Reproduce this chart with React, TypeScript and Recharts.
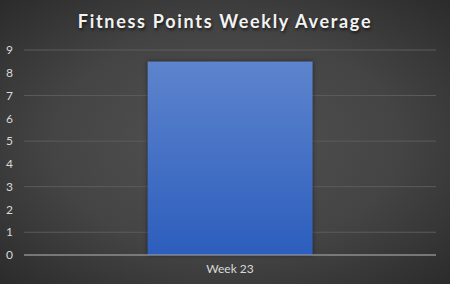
import React from "react";
import { BarChart, Bar, XAxis, YAxis, CartesianGrid } from "recharts";

const title = "Fitness Points Weekly Average";
const weeks = ["Week 23"];
const averagePoints = [8.5];
const yTicks = [0, 1, 2, 3, 4, 5, 6, 7, 8, 9];

const data = weeks.map((week, i) => ({ week, points: averagePoints[i] }));

const labelStyle = { fill: "#d9d9d9", fontSize: 12, fontFamily: "Lato, sans-serif" };

export default function App() {
  return (
    <div
      style={{
        position: "absolute",
        left: 0,
        top: 0,
        width: 450,
        height: 284,
        background: "radial-gradient(ellipse at center, #525252 0%, #444444 55%, #2b2b2b 100%)",
        overflow: "hidden",
      }}
    >
      <div
        style={{
          position: "absolute",
          top: 10,
          left: 0,
          width: 450,
          textAlign: "center",
          color: "#f2f2f2",
          fontFamily: "Lato, sans-serif",
          fontWeight: 700,
          fontSize: 18,
          letterSpacing: 1.7,
          textShadow: "1px 2px 3px rgba(0,0,0,0.6)",
        }}
      >
        {title}
      </div>
      <BarChart
        width={450}
        height={284}
        data={data}
        margin={{ top: 50, right: 14, bottom: 0, left: 0 }}
        barCategoryGap="30%"
      >
        <defs>
          <linearGradient id="barFill" x1="0" y1="0" x2="0" y2="1">
            <stop offset="0%" stopColor="#5d84cd" />
            <stop offset="100%" stopColor="#2d5ebd" />
          </linearGradient>
        </defs>
        <CartesianGrid vertical={false} stroke="#5c5c5c" />
        <XAxis
          dataKey="week"
          height={29}
          tickLine={false}
          tickSize={0}
          tickMargin={9}
          axisLine={{ stroke: "#a6a6a6" }}
          tick={labelStyle}
        />
        <YAxis
          domain={[0, 9]}
          ticks={yTicks}
          width={24}
          tickLine={false}
          tickSize={0}
          tickMargin={11}
          axisLine={false}
          tick={labelStyle}
        />
        <Bar
          dataKey="points"
          fill="url(#barFill)"
          isAnimationActive={false}
          style={{ filter: "drop-shadow(0px 0px 2px rgba(0,0,0,0.5))" }}
        />
      </BarChart>
    </div>
  );
}
